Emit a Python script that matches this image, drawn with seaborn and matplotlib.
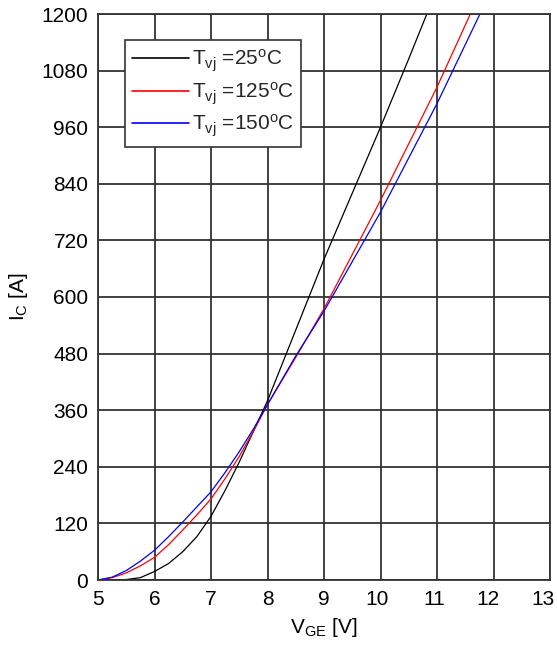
import numpy as np
import pandas as pd
import matplotlib
matplotlib.use("Agg")
import matplotlib.pyplot as plt
import matplotlib.transforms as mtransforms
import seaborn as sns

# Data
vge_25 = [5.0, 5.25, 5.5, 5.75, 6.0, 6.25, 6.5, 6.75, 7.0, 7.25, 7.5, 7.75, 8.0, 8.5, 9.0, 9.5, 10.0, 10.5, 10.82]
ic_25 = [0, 0, 1, 5, 18, 35, 60, 92, 135, 190, 250, 315, 380, 530, 680, 820, 960, 1105, 1200]

vge_125 = [5.0, 5.25, 5.5, 5.75, 6.0, 6.25, 6.5, 6.75, 7.0, 7.25, 7.5, 7.75, 8.0, 8.5, 9.0, 9.5, 10.0, 10.5, 11.0, 11.59]
ic_125 = [0, 5, 15, 30, 48, 75, 106, 138, 172, 215, 262, 315, 372, 472, 575, 690, 805, 925, 1045, 1200]

vge_150 = [5.0, 5.25, 5.5, 5.75, 6.0, 6.25, 6.5, 6.75, 7.0, 7.25, 7.5, 7.75, 8.0, 8.5, 9.0, 9.5, 10.0, 10.5, 11.0, 11.76]
ic_150 = [0, 6, 20, 40, 63, 92, 123, 155, 187, 228, 272, 320, 372, 475, 570, 675, 780, 895, 1010, 1200]

labels = [r"T$_{\mathrm{vj}}$ =25$^{\mathrm{o}}$C",
          r"T$_{\mathrm{vj}}$ =125$^{\mathrm{o}}$C",
          r"T$_{\mathrm{vj}}$ =150$^{\mathrm{o}}$C"]
colors = ["black", "red", "blue"]

x_ticks = [5, 6, 7, 8, 9, 10, 11, 12, 13]
y_ticks = [0, 120, 240, 360, 480, 600, 720, 840, 960, 1080, 1200]

frames = []
for v, i, lab in zip([vge_25, vge_125, vge_150], [ic_25, ic_125, ic_150], labels):
    frames.append(pd.DataFrame({"VGE": v, "IC": i, "T": lab}))
df = pd.concat(frames, ignore_index=True)

sns.set_theme(style="white")
plt.rcParams["font.family"] = ["Liberation Sans", "DejaVu Sans"]
plt.rcParams["mathtext.fontset"] = "custom"
plt.rcParams["mathtext.rm"] = "Liberation Sans"
plt.rcParams["mathtext.it"] = "Liberation Sans:italic"

FS = 15
fig = plt.figure(figsize=(5.57, 6.48), dpi=100)
ax = fig.add_axes([98 / 557, 1 - 580 / 648, 452 / 557, 566 / 648])

sns.lineplot(data=df, x="VGE", y="IC", hue="T", palette=colors, sort=False,
             estimator=None, linewidth=0.9, ax=ax)

ax.set_xlim(5, 13)
ax.set_ylim(0, 1200)
ax.set_xticks(x_ticks)
ax.set_yticks(y_ticks)
ax.tick_params(axis="both", length=0, labelsize=FS, colors="black")
ax.tick_params(axis="x", pad=7)
ax.tick_params(axis="y", pad=7)
ax.grid(True, color="#333333", linewidth=1.3)
ax.set_axisbelow(True)
for s in ax.spines.values():
    s.set_color("#333333")
    s.set_linewidth(1.3)

# small leftward shift of the two-digit x tick labels, as in the reference
for lbl, tv in zip(ax.get_xticklabels(), x_ticks):
    dx = {10: -3, 11: -3, 12: -6, 13: -7}.get(tv, 0)
    if dx:
        lbl.set_transform(lbl.get_transform() +
                          mtransforms.ScaledTranslation(dx / 100, 0, fig.dpi_scale_trans))

ax.set_xlabel(r"V$_{\mathrm{GE}}$ [V]", fontsize=FS, color="black", labelpad=5)
ax.set_ylabel(r"I$_{\mathrm{C}}$ [A]", fontsize=FS, color="black", labelpad=8)

leg = ax.legend(loc="upper left", bbox_to_anchor=(27 / 452, 1 - 26 / 566), fontsize=FS,
                frameon=True, fancybox=False, edgecolor="#333333",
                framealpha=1, handlelength=2.7, handletextpad=0.15,
                labelspacing=0.3, borderpad=0.35, borderaxespad=0)
leg.get_frame().set_linewidth(1.2)
for line in leg.get_lines():
    line.set_linewidth(1.2)

fig.savefig("out.png", dpi=100)
